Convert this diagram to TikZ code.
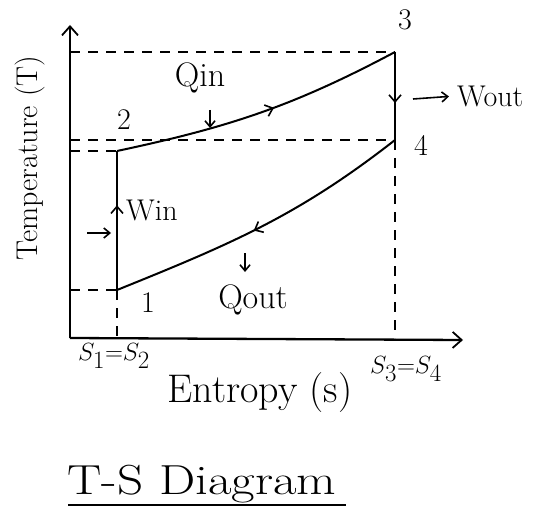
\documentclass[tikz,border=0pt]{standalone}
\usepackage{fontspec}
\usepackage{tikz}
\usetikzlibrary{arrows.meta,decorations.markings}

\begin{document}
\begin{tikzpicture}[x=1pt,y=1pt,
  every node/.style={font=\fontsize{30}{34}\selectfont,inner sep=2pt},
  big/.style={font=\fontsize{40}{44}\selectfont},
  axis/.style={line width=2.3pt,-{Straight Barb[length=9pt,width=16pt,line width=1.8pt]}},
  proc/.style={line width=2pt},
  guide/.style={line width=1.6pt,dash pattern=on 10pt off 8pt},
  tip/.style={-{Straight Barb[length=6pt,width=10pt]},line width=1.6pt},
  midarr/.style={postaction={decorate},decoration={markings,
    mark=at position #1 with {\arrow{Straight Barb[length=7pt,width=12pt,line width=1.6pt]}}}},
  midarrrev/.style={postaction={decorate},decoration={markings,
    mark=at position #1 with {\arrowreversed{Straight Barb[length=7pt,width=12pt,line width=1.6pt]}}}}]
\useasboundingbox (0,0) rectangle (557,-508);
%--- Axes ---
\coordinate (O)    at (70,-338);
\coordinate (ytop) at (70,-25);
\coordinate (xend) at (463,-340);
\draw[axis] (O)--(ytop);
\draw[axis] (O)--(xend);
%--- State points ---
\coordinate (p1) at (117,-290);
\coordinate (p2) at (117,-151);
\coordinate (p3) at (395,-52);
\coordinate (p4) at (395,-140);
\node at (405,-20)  (n3) {3};
\node at (421,-145) (n4) {4};
\node at (124,-120) (n2) {2};
\node at (148,-303) (n1) {1};
%--- Guides ---
\draw[guide] (O|-p3)--(p3);
\draw[guide] (O|-p4)--(p4);
\draw[guide] (O|-p2)--(p2);
\draw[guide] (O|-p1)--(p1);
\draw[guide] (p1)--(p1|-O);
\draw[guide] (p4)--(p4|-O);
%--- Cycle ---
\draw[proc,midarr=0.61]    (p1)--(p2);
\draw[proc,midarr=0.55]    (p2) to[out=12,in=208] (p3);
\draw[proc,midarr=0.58]    (p3)--(p4);
\draw[proc,midarrrev=0.47] (p1) to[out=22,in=218] (p4);
%--- Heat and work ---
\node[font=\fontsize{34}{38}\selectfont] at (200,-78) (Qin) {Qin};
\coordinate (qa) at (210,-110);
\coordinate (qb) at (210,-128);
\draw[tip] (qa)--(qb);
\node[anchor=west] at (455,-96) (Wout) {Wout};
\coordinate (wa) at (413,-99);
\draw[tip,shorten >=6pt] (wa)--(Wout.west);
\node[anchor=west] at (124,-210) (Win) {Win};
\coordinate (wi) at (87,-233);
\coordinate (wj) at (p2|-wi);
\draw[tip,shorten >=6pt] (wi)--(wj);
\node[font=\fontsize{34}{38}\selectfont] at (253,-300) (Qout) {Qout};
\coordinate (qc) at (245,-253);
\coordinate (qd) at (245,-272);
\draw[tip] (qc)--(qd);
%--- Labels ---
\node[font=\fontsize{30}{34}\selectfont,rotate=90] at (30,-158) (Tlab) {Temperature (T)};
\node[big] at (260,-393) (Slab) {Entropy (s)};
\node[font=\fontsize{34}{38}\selectfont] at (114,-356) (s12) {$S_1{=}S_2$};
\node[font=\fontsize{34}{38}\selectfont] at (406,-369) (s34) {$S_3{=}S_4$};
\node[font=\fontsize{42}{46}\selectfont,xscale=1.22] at (202,-484) (ttl) {T-S\ Diagram};
\coordinate (u1) at (68,-505);
\coordinate (u2) at (346,-505);
\draw[line width=2.3pt] (u1)--(u2);
\end{tikzpicture}
\end{document}
